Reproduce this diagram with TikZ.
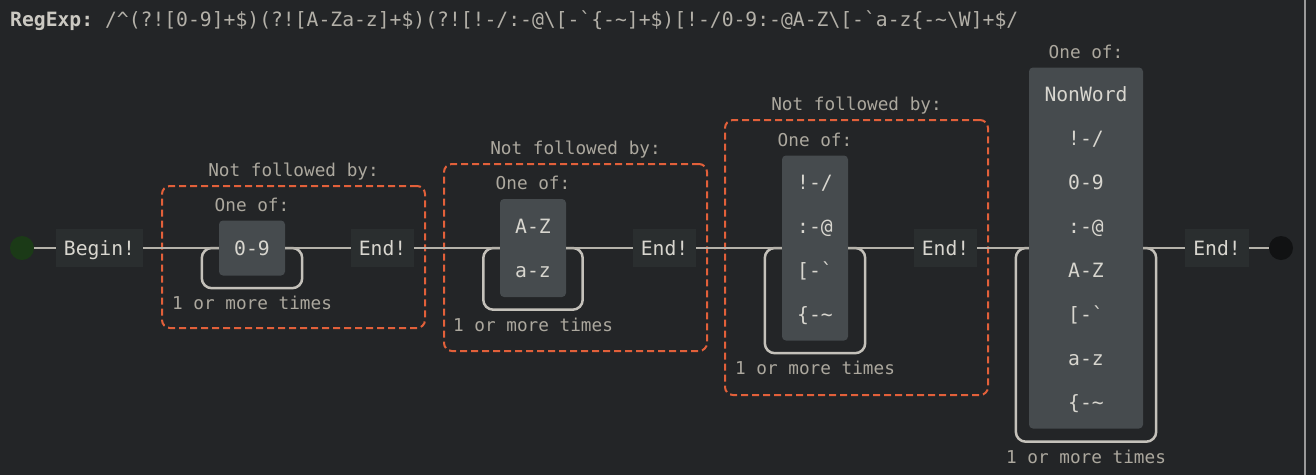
\documentclass[tikz,border=0pt]{standalone}
\usepackage{fontspec}
\usepackage{xcolor}
\setmonofont{DejaVu Sans Mono}
\usetikzlibrary{positioning}

\definecolor{bgcol}{HTML}{232527}
\definecolor{railcol}{HTML}{B5B2AA}
\definecolor{loopcol}{HTML}{C4C1BA}
\definecolor{termcol}{HTML}{2A2E2F}
\definecolor{setcol}{HTML}{464B4E}
\definecolor{entrycol}{HTML}{D8D6CF}
\definecolor{notecol}{HTML}{ACA89E}
\definecolor{dashcol}{HTML}{E2603A}
\definecolor{titlecol}{HTML}{CBC9C2}
\definecolor{regexcol}{HTML}{B3B0A8}
\definecolor{startcol}{HTML}{1B3A17}
\definecolor{stopcol}{HTML}{111213}
\definecolor{framecol}{HTML}{9A9A9A}

\begin{document}
\begin{tikzpicture}[
    x=1pt, y=-1pt,
    rail/.style={draw=railcol, line width=2pt},
    repeatline/.style={draw=loopcol, line width=2.5pt, rounded corners=10pt},
    lookahead/.style={draw=dashcol, line width=2pt, dash pattern=on 7pt off 4pt, rounded corners=8pt, inner sep=0pt},
    term/.style={fill=termcol, text=entrycol, font=\ttfamily\fontsize{19.7}{20}\selectfont, minimum height=38pt, inner xsep=8pt, inner ysep=0pt, text height=14pt, text depth=0pt},
    charset/.style={fill=setcol, rounded corners=4pt, inner sep=0pt},
    entry/.style={text=entrycol, font=\ttfamily\fontsize{19.7}{20}\selectfont, inner sep=0pt, text height=14pt, text depth=0pt},
    note/.style={text=notecol, font=\ttfamily\fontsize{17.7}{18}\selectfont, inner sep=0pt, text height=13pt, text depth=0pt},
    dot/.style={circle, minimum size=24pt, inner sep=0pt}
]
    \useasboundingbox (0,0) rectangle (1316,475);
    \fill[bgcol] (0,0) rectangle (1316,475);
    \draw[framecol, line width=1.5pt] (1305,0) -- (1305,475);

    % Title
    \node[anchor=west, font=\ttfamily\fontsize{19.7}{20}\selectfont, text=regexcol, inner sep=0pt, text height=14pt, text depth=0pt] (title) at (10,19)
        {\textcolor{titlecol}{\textbf{RegExp:}} /\textasciicircum(?![0-9]+\$)(?![A-Za-z]+\$)(?![!-/:-@\textbackslash{}[-`\{-\textasciitilde]+\$)[!-/0-9:-@A-Z\textbackslash{}[-`a-z\{-\textasciitilde\textbackslash{}W]+\$/};

    % Start
    \node[dot, fill=startcol] (start) at (22,248) {};
    \node[term] (begin) at (99.5,248) {Begin!};

    % Lookahead 1
    \node[lookahead, minimum width=263pt, minimum height=142pt] (la1) at (293.5,257) {};
    \node[note] (nf1) at ([yshift=15pt]la1.north) {Not followed by:};
    \node[charset, minimum width=66pt, minimum height=55pt] (cs1) at (252,248) {};
    \node[entry] (cs1e1) at (cs1) {0-9};
    \node[note] (one1) at ([yshift=15.5pt]cs1.north) {One of:};
    \draw[repeatline] (cs1.west) -| ([xshift=-17pt, yshift=-12.5pt]cs1.south west) -| ([xshift=17pt]cs1.east) -- (cs1.east);
    \node[note] (rep1) at ([yshift=-27.5pt]cs1.south) {1 or more times};
    \node[term] (end1) at (382.5,248) {End!};

    % Lookahead 2
    \node[lookahead, minimum width=263pt, minimum height=187pt] (la2) at (575.5,257.5) {};
    \node[note] (nf2) at ([yshift=15pt]la2.north) {Not followed by:};
    \node[charset, minimum width=66pt, minimum height=98pt] (cs2) at (533,248) {};
    \foreach \txt [count=\i] in {{A-Z},{a-z}}
        \node[entry] (cs2e\i) at ([yshift={-27.5pt-44pt*(\i-1)}]cs2.north) {\txt};
    \node[note] (one2) at ([yshift=15.5pt]cs2.north) {One of:};
    \draw[repeatline] (cs2.west) -| ([xshift=-16.5pt, yshift=-12.5pt]cs2.south west) -| ([xshift=16.5pt]cs2.east) -- (cs2.east);
    \node[note] (rep2) at ([yshift=-27.5pt]cs2.south) {1 or more times};
    \node[term] (end2) at (664.5,248) {End!};

    % Lookahead 3
    \node[lookahead, minimum width=263pt, minimum height=275pt] (la3) at (856.5,257.5) {};
    \node[note] (nf3) at ([yshift=15pt]la3.north) {Not followed by:};
    \node[charset, minimum width=66pt, minimum height=185pt] (cs3) at (815,248) {};
    \foreach \txt [count=\i] in {{!-/},{:-@},{[-`},{\{-\textasciitilde}}
        \node[entry] (cs3e\i) at ([yshift={-27.5pt-44pt*(\i-1)}]cs3.north) {\txt};
    \node[note] (one3) at ([yshift=15.5pt]cs3.north) {One of:};
    \draw[repeatline] (cs3.west) -| ([xshift=-17pt, yshift=-12.5pt]cs3.south west) -| ([xshift=17pt]cs3.east) -- (cs3.east);
    \node[note] (rep3) at ([yshift=-27.5pt]cs3.south) {1 or more times};
    \node[term] (end3) at (945.5,248) {End!};

    % Main character set
    \node[charset, minimum width=114pt, minimum height=361pt] (cs4) at (1086,248) {};
    \foreach \txt [count=\i] in {{NonWord},{!-/},{0-9},{:-@},{A-Z},{[-`},{a-z},{\{-\textasciitilde}}
        \node[entry] (cs4e\i) at ([yshift={-27.5pt-44pt*(\i-1)}]cs4.north) {\txt};
    \node[note] (one4) at ([yshift=15.5pt]cs4.north) {One of:};
    \draw[repeatline] (cs4.west) -| ([xshift=-13pt, yshift=-13pt]cs4.south west) -| ([xshift=13pt]cs4.east) -- (cs4.east);
    \node[note] (rep4) at ([yshift=-28pt]cs4.south) {1 or more times};
    \node[term] (end4) at (1217,248) {End!};

    % Stop
    \node[dot, fill=stopcol] (stop) at (1281,248) {};

    % Rails
    \draw[rail] (start) -- (begin);
    \draw[rail] (begin) -- (cs1);
    \draw[rail] (cs1) -- (end1);
    \draw[rail] (end1) -- (cs2);
    \draw[rail] (cs2) -- (end2);
    \draw[rail] (end2) -- (cs3);
    \draw[rail] (cs3) -- (end3);
    \draw[rail] (end3) -- (cs4);
    \draw[rail] (cs4) -- (end4);
    \draw[rail] (end4) -- (stop);
\end{tikzpicture}
\end{document}
